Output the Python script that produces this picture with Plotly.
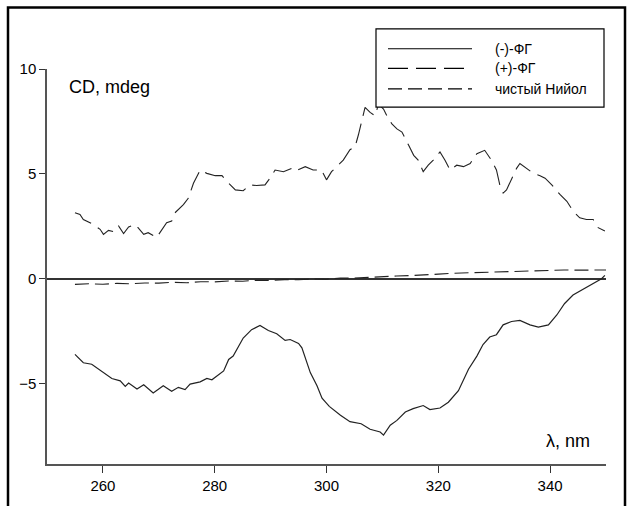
import plotly.graph_objects as go

# ---------------- data ----------------
wl_neg = [255.0, 256.5, 258.0, 259.5, 261.6, 263.1, 264.0, 264.6, 266.1, 267.3, 269.0, 270.8,
          272.3, 273.5, 274.7, 275.6, 277.4, 278.6, 279.5, 281.6, 282.5, 283.3, 285.1, 286.6,
          288.1, 289.6, 291.1, 292.6, 293.5, 295.0, 295.6, 297.1, 298.3, 299.2, 300.5, 302.5,
          304.2, 306.2, 307.8, 309.6, 310.2, 311.4, 312.6, 314.1, 315.5, 317.3, 318.5, 320.3,
          321.8, 323.6, 325.4, 326.9, 328.0, 329.2, 330.4, 331.6, 333.1, 334.6, 336.4, 337.9,
          339.7, 341.2, 342.6, 344.1, 345.6, 347.1, 348.3, 349.2, 349.8]
cd_neg = [-3.62, -4.02, -4.09, -4.36, -4.77, -4.88, -5.15, -4.99, -5.27, -5.07, -5.46, -5.12,
          -5.38, -5.19, -5.30, -5.04, -4.93, -4.77, -4.83, -4.41, -3.86, -3.70, -2.84, -2.44,
          -2.24, -2.48, -2.63, -2.95, -2.91, -3.10, -3.31, -4.49, -5.12, -5.71, -6.10, -6.52,
          -6.83, -6.93, -7.19, -7.32, -7.47, -7.00, -6.77, -6.37, -6.21, -6.06, -6.25, -6.18,
          -5.90, -5.35, -4.33, -3.70, -3.15, -2.79, -2.68, -2.21, -2.05, -2.00, -2.21, -2.32,
          -2.21, -1.74, -1.19, -0.79, -0.56, -0.32, -0.12, -0.01, 0.15]

wl_pos = [255.0, 255.9, 256.5, 258.0, 259.5, 260.1, 261.0, 261.9, 262.8, 263.7, 264.6, 265.8,
          267.3, 268.1, 269.6, 270.8, 271.4, 272.3, 272.9, 274.4, 275.3, 276.2, 277.4, 278.6,
          280.1, 281.3, 282.2, 283.7, 285.1, 286.3, 287.5, 289.0, 289.9, 290.8, 292.3, 293.8,
          294.4, 296.2, 297.6, 299.1, 300.0, 300.9, 301.8, 303.0, 304.2, 305.1, 305.7, 306.3,
          306.9, 307.8, 308.7, 309.3, 310.2, 310.8, 311.7, 312.6, 313.5, 314.7, 315.6, 316.4,
          317.3, 318.2, 319.1, 320.3, 321.2, 322.1, 323.3, 324.5, 325.7, 326.9, 328.3, 329.5,
          330.4, 331.0, 331.6, 332.2, 333.1, 334.0, 334.6, 335.8, 337.0, 338.2, 339.1, 340.3,
          341.8, 343.0, 344.1, 345.3, 346.5, 347.7, 348.6, 349.8]
cd_pos = [3.14, 3.06, 2.82, 2.62, 2.35, 2.11, 2.30, 2.24, 2.51, 2.15, 2.46, 2.58,
          2.11, 2.19, 1.96, 2.43, 2.66, 2.74, 3.14, 3.53, 3.84, 4.55, 5.18, 5.02,
          4.91, 4.91, 4.63, 4.23, 4.19, 4.47, 4.44, 4.47, 4.79, 5.18, 5.10, 5.26,
          5.13, 5.34, 5.18, 5.18, 4.71, 5.10, 5.34, 5.65, 6.15, 6.28, 6.85, 7.53,
          8.17, 7.93, 7.77, 8.32, 8.09, 7.77, 7.38, 7.14, 6.99, 6.36, 5.88, 5.65,
          5.10, 5.41, 5.65, 6.04, 5.65, 5.18, 5.41, 5.34, 5.49, 5.96, 6.12, 5.65,
          5.18, 4.47, 4.08, 4.23, 4.79, 5.26, 5.49, 5.26, 5.02, 4.91, 4.79, 4.47,
          4.00, 3.69, 3.22, 2.90, 2.82, 2.82, 2.43, 2.27]

wl_nujol = [255, 257.5, 260, 262.5, 265, 267.5, 270, 272.5, 275, 277.5, 280, 282.5, 285,
            287.5, 290, 292.5, 295, 297.5, 300, 302.5, 305, 307.5, 310, 312.5, 315, 317.5,
            320, 322.5, 325, 327.5, 330, 332.5, 335, 337.5, 340, 342.5, 345, 347.5, 350]
cd_nujol = [-0.28, -0.25, -0.27, -0.23, -0.25, -0.21, -0.22, -0.18, -0.20, -0.15, -0.16,
            -0.12, -0.13, -0.08, -0.09, -0.05, -0.06, -0.02, -0.03, 0.02, 0.02, 0.06, 0.07,
            0.12, 0.14, 0.19, 0.21, 0.25, 0.27, 0.31, 0.32, 0.36, 0.36, 0.39, 0.39, 0.41,
            0.40, 0.42, 0.41]

series_names = ["(-)-ФГ", "(+)-ФГ", "чистый Нийол"]
x_ticks = [260, 280, 300, 320, 340]
y_ticks = [-5, 0, 5, 10]

# ---------------- layout geometry ----------------
W_FIG, H_FIG = 631, 506
ML, MR, MT, MB = 47, 25, 69, 33
PW = W_FIG - ML - MR
PH = H_FIG - MT - MB
FONT = "Arial, 'Liberation Sans', sans-serif"
LINE_C = "#222222"


def pxx(x):
    return (x - ML) / PW


def pxy(y):
    return (MT + PH - y) / PH


fig = go.Figure()
styles = [("solid", 1.2), ("20px,8px", 1.1), ("14px,6px", 1.1)]
for (xs, ys), name, (dash, w) in zip([(wl_neg, cd_neg), (wl_pos, cd_pos), (wl_nujol, cd_nujol)],
                                     series_names, styles):
    fig.add_trace(go.Scatter(x=xs, y=ys, mode="lines", name=name,
                             line=dict(color=LINE_C, width=w, dash=dash),
                             showlegend=False))

shapes = []
# outer frame
shapes.append(dict(type="rect", xref="paper", yref="paper",
                   x0=pxx(8), x1=pxx(625), y0=pxy(530), y1=pxy(6),
                   line=dict(color="black", width=2.5), layer="above"))
# legend box
shapes.append(dict(type="rect", xref="paper", yref="paper",
                   x0=pxx(376), x1=pxx(604), y0=pxy(108), y1=pxy(28),
                   line=dict(color="black", width=1.2), fillcolor="white", layer="above"))
legend_rows = [48.3, 68.3, 89.3]
annotations = []
for row_y, name, (dash, w) in zip(legend_rows, series_names, styles):
    shapes.append(dict(type="line", xref="paper", yref="paper",
                       x0=pxx(388), x1=pxx(472), y0=pxy(row_y), y1=pxy(row_y),
                       line=dict(color="black", width=1.2, dash=dash), layer="above"))
    annotations.append(dict(text=name, xref="paper", yref="paper", x=pxx(493), y=pxy(row_y),
                            xanchor="left", yanchor="middle", showarrow=False,
                            font=dict(family=FONT, size=14, color="black")))

annotations.append(dict(text="CD, mdeg", xref="paper", yref="paper", x=pxx(67), y=pxy(87),
                        xanchor="left", yanchor="middle", showarrow=False,
                        font=dict(family=FONT, size=18, color="black")))
annotations.append(dict(text="λ, nm", xref="paper", yref="paper", x=pxx(544), y=pxy(449),
                        xanchor="left", yanchor="middle", showarrow=False,
                        font=dict(family=FONT, size=18, color="black")))

fig.update_layout(
    width=W_FIG, height=H_FIG,
    margin=dict(l=ML, r=MR, t=MT, b=MB, pad=0),
    paper_bgcolor="white", plot_bgcolor="white",
    font=dict(family=FONT, size=15, color="black"),
    shapes=shapes, annotations=annotations,
    xaxis=dict(range=[250, 350], tickvals=x_ticks, ticks="outside", ticklen=7, tickwidth=1,
               tickcolor="#333", showline=True, linecolor="#555", linewidth=1.5,
               showgrid=False, zeroline=False, tickfont=dict(size=15)),
    yaxis=dict(range=[-8.85, 10], tickvals=y_ticks, ticks="outside", ticklen=6, tickwidth=1,
               tickcolor="#333", showline=True, linecolor="#555", linewidth=1.5,
               showgrid=False, zeroline=True, zerolinecolor="#333", zerolinewidth=2,
               tickfont=dict(size=15)),
)

fig.write_html("out.html")
